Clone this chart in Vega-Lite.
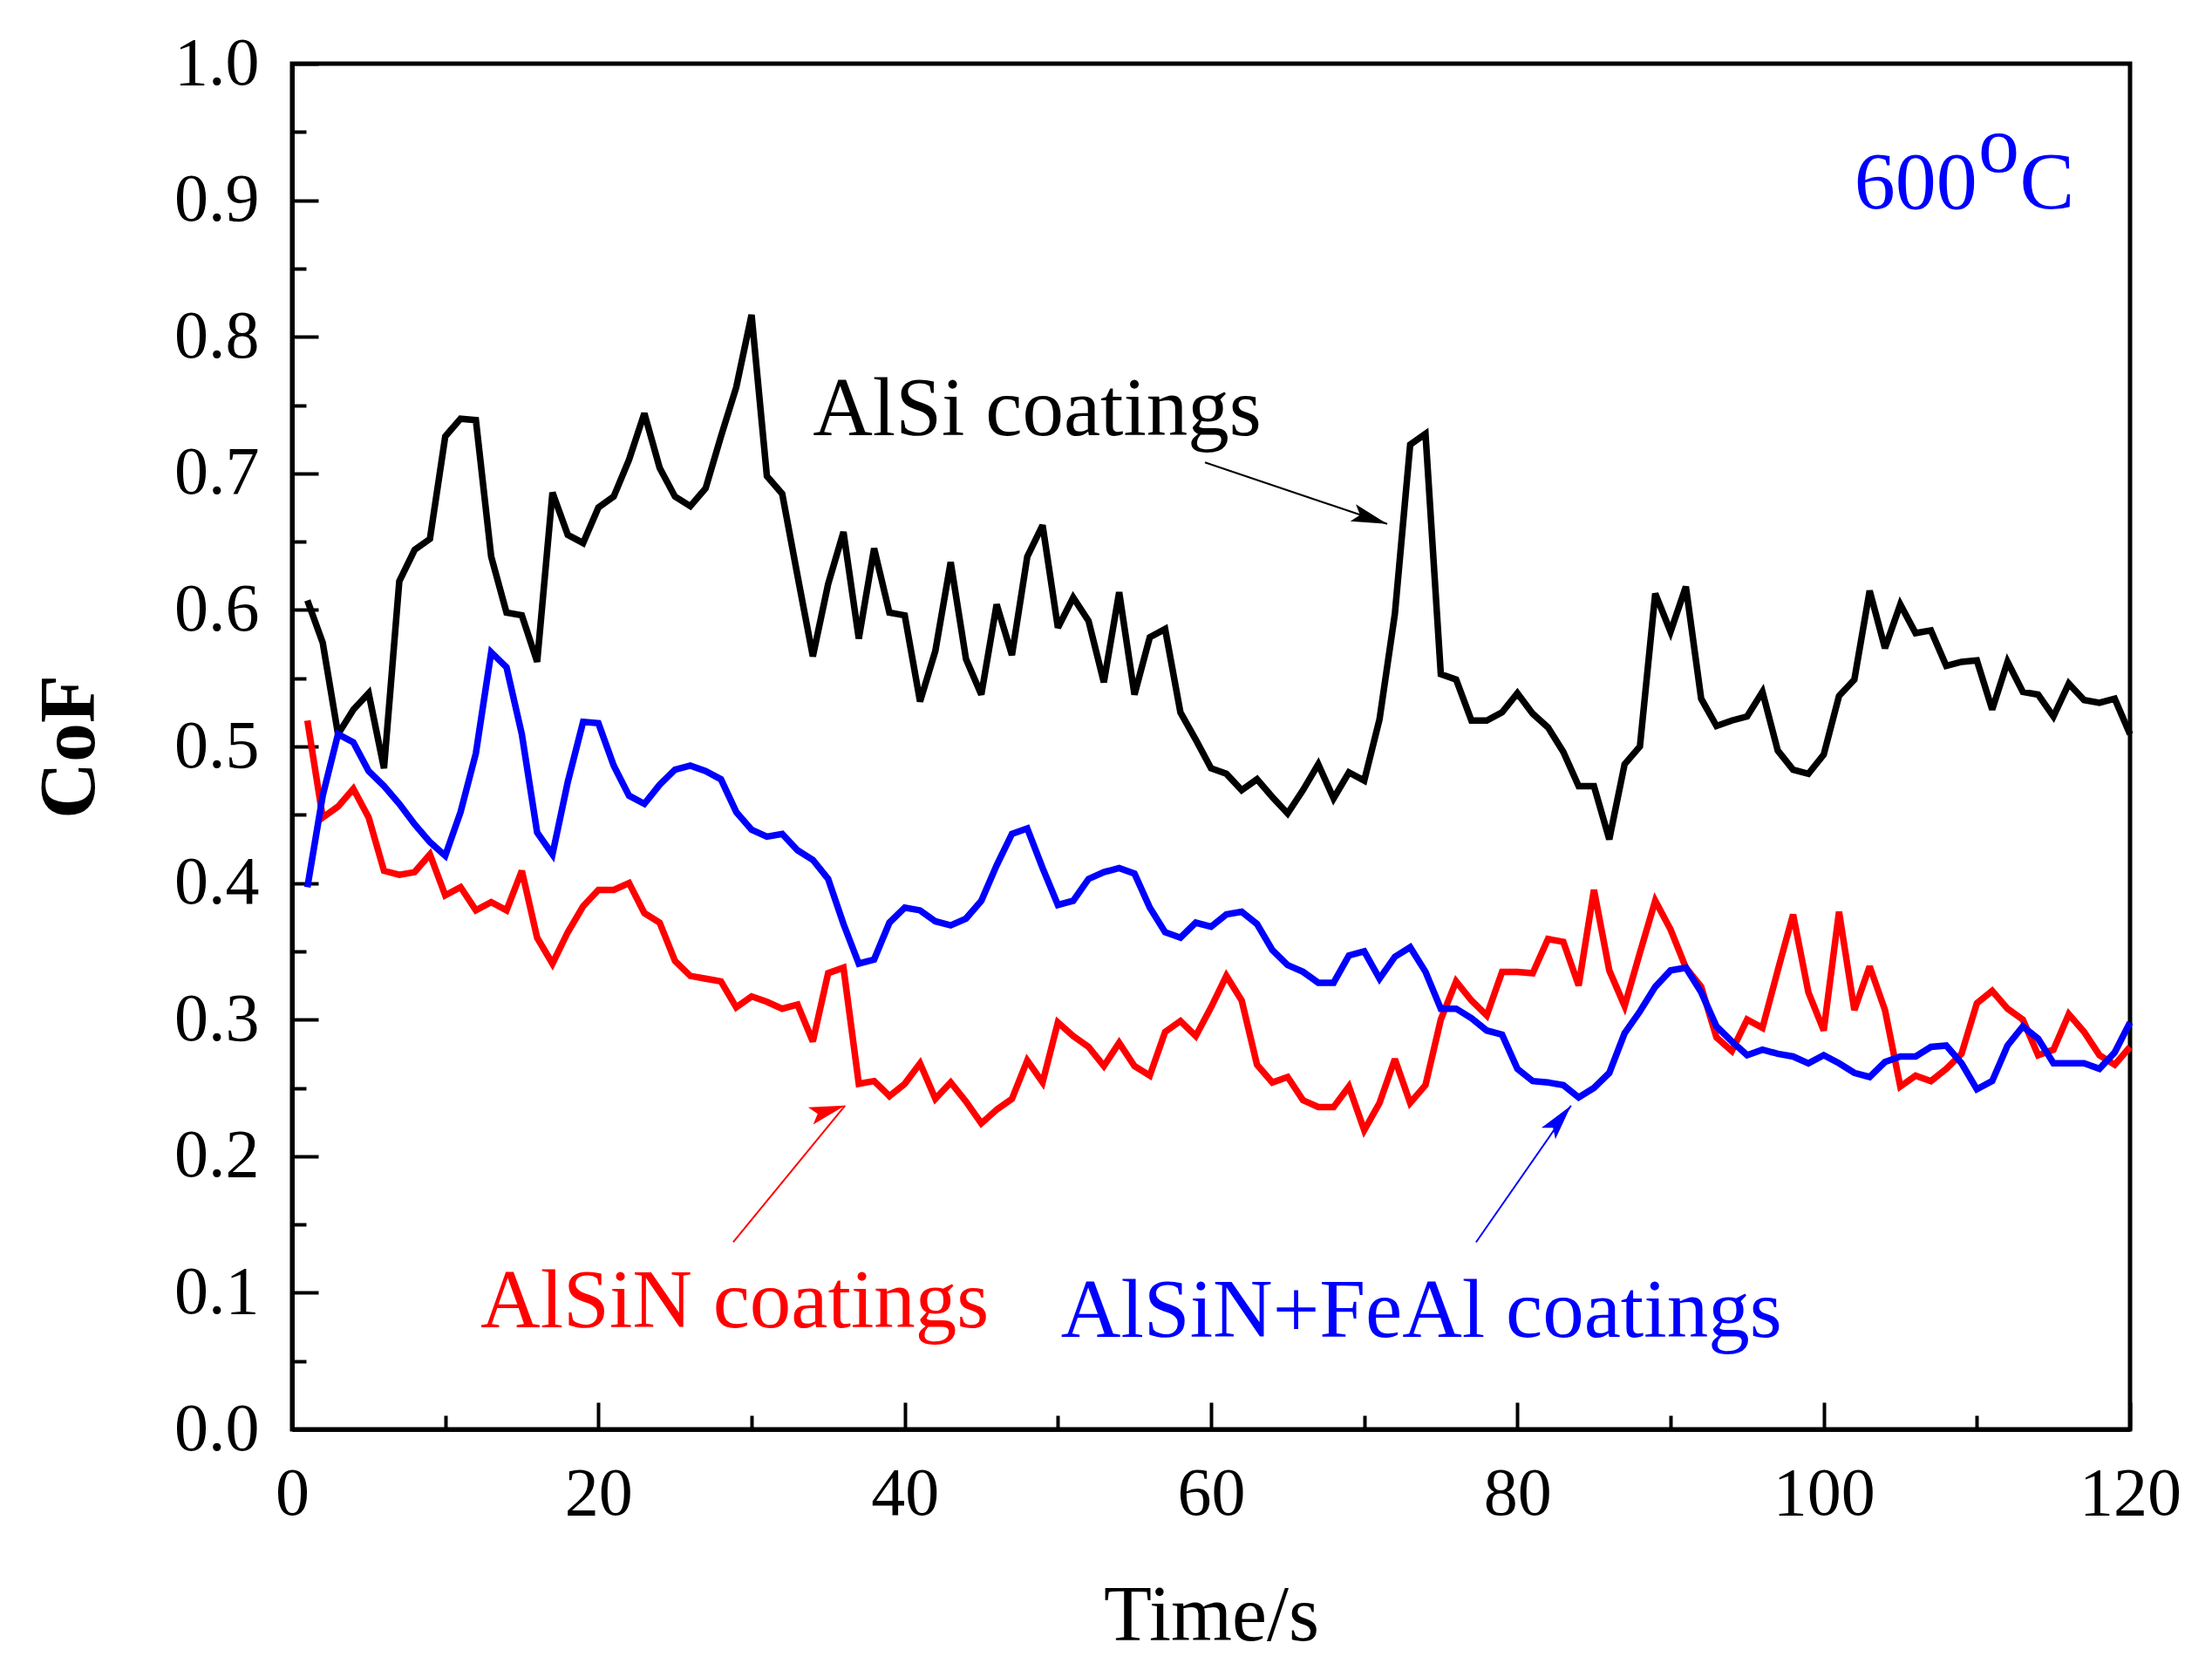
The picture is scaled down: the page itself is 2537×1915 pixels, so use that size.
{
  "$schema": "https://vega.github.io/schema/vega-lite/v6.json",
  "autosize": "none",
  "width": 2108,
  "height": 1566,
  "padding": {"left": 335, "top": 73, "right": 94, "bottom": 276},
  "background": "white",
  "config": {
    "view": {"stroke": "black", "strokeWidth": 5},
    "axis": {"grid": false, "domainColor": "black", "tickColor": "black", "labelColor": "black", "titleColor": "black", "labelFont": "Liberation Serif", "titleFont": "Liberation Serif"}
  },
  "datasets": {
    "cof": [
      {"t": 1, "AlSi": 0.607, "AlSiN": 0.519, "AlSiN+FeAl": 0.397},
      {"t": 2, "AlSi": 0.576, "AlSiN": 0.448, "AlSiN+FeAl": 0.464},
      {"t": 3, "AlSi": 0.509, "AlSiN": 0.456, "AlSiN+FeAl": 0.509},
      {"t": 4, "AlSi": 0.527, "AlSiN": 0.469, "AlSiN+FeAl": 0.503},
      {"t": 5, "AlSi": 0.539, "AlSiN": 0.448, "AlSiN+FeAl": 0.482},
      {"t": 6, "AlSi": 0.484, "AlSiN": 0.409, "AlSiN+FeAl": 0.471},
      {"t": 7, "AlSi": 0.621, "AlSiN": 0.406, "AlSiN+FeAl": 0.458},
      {"t": 8, "AlSi": 0.644, "AlSiN": 0.408, "AlSiN+FeAl": 0.443},
      {"t": 9, "AlSi": 0.652, "AlSiN": 0.421, "AlSiN+FeAl": 0.430},
      {"t": 10, "AlSi": 0.727, "AlSiN": 0.391, "AlSiN+FeAl": 0.420},
      {"t": 11, "AlSi": 0.740, "AlSiN": 0.397, "AlSiN+FeAl": 0.452},
      {"t": 12, "AlSi": 0.739, "AlSiN": 0.380, "AlSiN+FeAl": 0.495},
      {"t": 13, "AlSi": 0.639, "AlSiN": 0.386, "AlSiN+FeAl": 0.569},
      {"t": 14, "AlSi": 0.598, "AlSiN": 0.380, "AlSiN+FeAl": 0.558},
      {"t": 15, "AlSi": 0.596, "AlSiN": 0.409, "AlSiN+FeAl": 0.509},
      {"t": 16, "AlSi": 0.562, "AlSiN": 0.360, "AlSiN+FeAl": 0.437},
      {"t": 17, "AlSi": 0.686, "AlSiN": 0.341, "AlSiN+FeAl": 0.421},
      {"t": 18, "AlSi": 0.655, "AlSiN": 0.364, "AlSiN+FeAl": 0.474},
      {"t": 19, "AlSi": 0.649, "AlSiN": 0.383, "AlSiN+FeAl": 0.518},
      {"t": 20, "AlSi": 0.675, "AlSiN": 0.395, "AlSiN+FeAl": 0.517},
      {"t": 21, "AlSi": 0.683, "AlSiN": 0.395, "AlSiN+FeAl": 0.486},
      {"t": 22, "AlSi": 0.710, "AlSiN": 0.400, "AlSiN+FeAl": 0.464},
      {"t": 23, "AlSi": 0.744, "AlSiN": 0.378, "AlSiN+FeAl": 0.458},
      {"t": 24, "AlSi": 0.704, "AlSiN": 0.371, "AlSiN+FeAl": 0.472},
      {"t": 25, "AlSi": 0.683, "AlSiN": 0.343, "AlSiN+FeAl": 0.483},
      {"t": 26, "AlSi": 0.676, "AlSiN": 0.332, "AlSiN+FeAl": 0.486},
      {"t": 27, "AlSi": 0.689, "AlSiN": 0.330, "AlSiN+FeAl": 0.482},
      {"t": 28, "AlSi": 0.727, "AlSiN": 0.328, "AlSiN+FeAl": 0.476},
      {"t": 29, "AlSi": 0.763, "AlSiN": 0.309, "AlSiN+FeAl": 0.452},
      {"t": 30, "AlSi": 0.816, "AlSiN": 0.317, "AlSiN+FeAl": 0.439},
      {"t": 31, "AlSi": 0.698, "AlSiN": 0.313, "AlSiN+FeAl": 0.434},
      {"t": 32, "AlSi": 0.685, "AlSiN": 0.308, "AlSiN+FeAl": 0.436},
      {"t": 33, "AlSi": 0.625, "AlSiN": 0.311, "AlSiN+FeAl": 0.424},
      {"t": 34, "AlSi": 0.566, "AlSiN": 0.284, "AlSiN+FeAl": 0.417},
      {"t": 35, "AlSi": 0.619, "AlSiN": 0.334, "AlSiN+FeAl": 0.403},
      {"t": 36, "AlSi": 0.657, "AlSiN": 0.338, "AlSiN+FeAl": 0.370},
      {"t": 37, "AlSi": 0.579, "AlSiN": 0.253, "AlSiN+FeAl": 0.341},
      {"t": 38, "AlSi": 0.645, "AlSiN": 0.255, "AlSiN+FeAl": 0.344},
      {"t": 39, "AlSi": 0.598, "AlSiN": 0.244, "AlSiN+FeAl": 0.371},
      {"t": 40, "AlSi": 0.596, "AlSiN": 0.253, "AlSiN+FeAl": 0.382},
      {"t": 41, "AlSi": 0.533, "AlSiN": 0.268, "AlSiN+FeAl": 0.380},
      {"t": 42, "AlSi": 0.570, "AlSiN": 0.242, "AlSiN+FeAl": 0.372},
      {"t": 43, "AlSi": 0.635, "AlSiN": 0.254, "AlSiN+FeAl": 0.369},
      {"t": 44, "AlSi": 0.564, "AlSiN": 0.240, "AlSiN+FeAl": 0.374},
      {"t": 45, "AlSi": 0.538, "AlSiN": 0.224, "AlSiN+FeAl": 0.387},
      {"t": 46, "AlSi": 0.604, "AlSiN": 0.234, "AlSiN+FeAl": 0.413},
      {"t": 47, "AlSi": 0.567, "AlSiN": 0.242, "AlSiN+FeAl": 0.436},
      {"t": 48, "AlSi": 0.639, "AlSiN": 0.270, "AlSiN+FeAl": 0.440},
      {"t": 49, "AlSi": 0.662, "AlSiN": 0.254, "AlSiN+FeAl": 0.411},
      {"t": 50, "AlSi": 0.587, "AlSiN": 0.298, "AlSiN+FeAl": 0.384},
      {"t": 51, "AlSi": 0.609, "AlSiN": 0.288, "AlSiN+FeAl": 0.387},
      {"t": 52, "AlSi": 0.592, "AlSiN": 0.280, "AlSiN+FeAl": 0.403},
      {"t": 53, "AlSi": 0.547, "AlSiN": 0.266, "AlSiN+FeAl": 0.408},
      {"t": 54, "AlSi": 0.613, "AlSiN": 0.283, "AlSiN+FeAl": 0.411},
      {"t": 55, "AlSi": 0.538, "AlSiN": 0.266, "AlSiN+FeAl": 0.407},
      {"t": 56, "AlSi": 0.580, "AlSiN": 0.259, "AlSiN+FeAl": 0.382},
      {"t": 57, "AlSi": 0.586, "AlSiN": 0.291, "AlSiN+FeAl": 0.364},
      {"t": 58, "AlSi": 0.525, "AlSiN": 0.299, "AlSiN+FeAl": 0.360},
      {"t": 59, "AlSi": 0.505, "AlSiN": 0.288, "AlSiN+FeAl": 0.371},
      {"t": 60, "AlSi": 0.484, "AlSiN": 0.309, "AlSiN+FeAl": 0.368},
      {"t": 61, "AlSi": 0.480, "AlSiN": 0.332, "AlSiN+FeAl": 0.377},
      {"t": 62, "AlSi": 0.468, "AlSiN": 0.314, "AlSiN+FeAl": 0.379},
      {"t": 63, "AlSi": 0.476, "AlSiN": 0.267, "AlSiN+FeAl": 0.370},
      {"t": 64, "AlSi": 0.463, "AlSiN": 0.254, "AlSiN+FeAl": 0.351},
      {"t": 65, "AlSi": 0.451, "AlSiN": 0.258, "AlSiN+FeAl": 0.340},
      {"t": 66, "AlSi": 0.468, "AlSiN": 0.241, "AlSiN+FeAl": 0.335},
      {"t": 67, "AlSi": 0.487, "AlSiN": 0.236, "AlSiN+FeAl": 0.327},
      {"t": 68, "AlSi": 0.462, "AlSiN": 0.236, "AlSiN+FeAl": 0.327},
      {"t": 69, "AlSi": 0.481, "AlSiN": 0.251, "AlSiN+FeAl": 0.347},
      {"t": 70, "AlSi": 0.475, "AlSiN": 0.219, "AlSiN+FeAl": 0.350},
      {"t": 71, "AlSi": 0.520, "AlSiN": 0.239, "AlSiN+FeAl": 0.330},
      {"t": 72, "AlSi": 0.597, "AlSiN": 0.271, "AlSiN+FeAl": 0.346},
      {"t": 73, "AlSi": 0.721, "AlSiN": 0.239, "AlSiN+FeAl": 0.353},
      {"t": 74, "AlSi": 0.729, "AlSiN": 0.252, "AlSiN+FeAl": 0.335},
      {"t": 75, "AlSi": 0.553, "AlSiN": 0.300, "AlSiN+FeAl": 0.308},
      {"t": 76, "AlSi": 0.549, "AlSiN": 0.328, "AlSiN+FeAl": 0.308},
      {"t": 77, "AlSi": 0.519, "AlSiN": 0.314, "AlSiN+FeAl": 0.301},
      {"t": 78, "AlSi": 0.519, "AlSiN": 0.303, "AlSiN+FeAl": 0.292},
      {"t": 79, "AlSi": 0.525, "AlSiN": 0.335, "AlSiN+FeAl": 0.289},
      {"t": 80, "AlSi": 0.539, "AlSiN": 0.335, "AlSiN+FeAl": 0.264},
      {"t": 81, "AlSi": 0.524, "AlSiN": 0.334, "AlSiN+FeAl": 0.255},
      {"t": 82, "AlSi": 0.514, "AlSiN": 0.359, "AlSiN+FeAl": 0.254},
      {"t": 83, "AlSi": 0.496, "AlSiN": 0.357, "AlSiN+FeAl": 0.252},
      {"t": 84, "AlSi": 0.471, "AlSiN": 0.325, "AlSiN+FeAl": 0.243},
      {"t": 85, "AlSi": 0.471, "AlSiN": 0.395, "AlSiN+FeAl": 0.250},
      {"t": 86, "AlSi": 0.432, "AlSiN": 0.336, "AlSiN+FeAl": 0.261},
      {"t": 87, "AlSi": 0.487, "AlSiN": 0.310, "AlSiN+FeAl": 0.290},
      {"t": 88, "AlSi": 0.500, "AlSiN": 0.349, "AlSiN+FeAl": 0.306},
      {"t": 89, "AlSi": 0.612, "AlSiN": 0.387, "AlSiN+FeAl": 0.324},
      {"t": 90, "AlSi": 0.584, "AlSiN": 0.366, "AlSiN+FeAl": 0.336},
      {"t": 91, "AlSi": 0.617, "AlSiN": 0.338, "AlSiN+FeAl": 0.338},
      {"t": 92, "AlSi": 0.535, "AlSiN": 0.324, "AlSiN+FeAl": 0.320},
      {"t": 93, "AlSi": 0.515, "AlSiN": 0.287, "AlSiN+FeAl": 0.295},
      {"t": 94, "AlSi": 0.519, "AlSiN": 0.277, "AlSiN+FeAl": 0.284},
      {"t": 95, "AlSi": 0.522, "AlSiN": 0.300, "AlSiN+FeAl": 0.274},
      {"t": 96, "AlSi": 0.540, "AlSiN": 0.294, "AlSiN+FeAl": 0.278},
      {"t": 97, "AlSi": 0.497, "AlSiN": 0.336, "AlSiN+FeAl": 0.275},
      {"t": 98, "AlSi": 0.483, "AlSiN": 0.377, "AlSiN+FeAl": 0.273},
      {"t": 99, "AlSi": 0.480, "AlSiN": 0.320, "AlSiN+FeAl": 0.268},
      {"t": 100, "AlSi": 0.494, "AlSiN": 0.292, "AlSiN+FeAl": 0.274},
      {"t": 101, "AlSi": 0.537, "AlSiN": 0.379, "AlSiN+FeAl": 0.268},
      {"t": 102, "AlSi": 0.549, "AlSiN": 0.307, "AlSiN+FeAl": 0.261},
      {"t": 103, "AlSi": 0.614, "AlSiN": 0.339, "AlSiN+FeAl": 0.258},
      {"t": 104, "AlSi": 0.572, "AlSiN": 0.307, "AlSiN+FeAl": 0.269},
      {"t": 105, "AlSi": 0.604, "AlSiN": 0.251, "AlSiN+FeAl": 0.273},
      {"t": 106, "AlSi": 0.583, "AlSiN": 0.259, "AlSiN+FeAl": 0.273},
      {"t": 107, "AlSi": 0.585, "AlSiN": 0.255, "AlSiN+FeAl": 0.280},
      {"t": 108, "AlSi": 0.559, "AlSiN": 0.264, "AlSiN+FeAl": 0.281},
      {"t": 109, "AlSi": 0.562, "AlSiN": 0.275, "AlSiN+FeAl": 0.268},
      {"t": 110, "AlSi": 0.563, "AlSiN": 0.312, "AlSiN+FeAl": 0.249},
      {"t": 111, "AlSi": 0.527, "AlSiN": 0.321, "AlSiN+FeAl": 0.255},
      {"t": 112, "AlSi": 0.562, "AlSiN": 0.308, "AlSiN+FeAl": 0.281},
      {"t": 113, "AlSi": 0.540, "AlSiN": 0.300, "AlSiN+FeAl": 0.295},
      {"t": 114, "AlSi": 0.538, "AlSiN": 0.274, "AlSiN+FeAl": 0.286},
      {"t": 115, "AlSi": 0.522, "AlSiN": 0.278, "AlSiN+FeAl": 0.268},
      {"t": 116, "AlSi": 0.546, "AlSiN": 0.304, "AlSiN+FeAl": 0.268},
      {"t": 117, "AlSi": 0.534, "AlSiN": 0.291, "AlSiN+FeAl": 0.268},
      {"t": 118, "AlSi": 0.532, "AlSiN": 0.274, "AlSiN+FeAl": 0.264},
      {"t": 119, "AlSi": 0.535, "AlSiN": 0.267, "AlSiN+FeAl": 0.276},
      {"t": 120, "AlSi": 0.509, "AlSiN": 0.280, "AlSiN+FeAl": 0.298}
    ],
    "arrows": [
      {"coating": "AlSi", "x": 59.6, "y": 0.708, "x2": 71.5, "y2": 0.663},
      {"coating": "AlSiN", "x": 28.8, "y": 0.137, "x2": 36.1, "y2": 0.237},
      {"coating": "AlSiN+FeAl", "x": 77.3, "y": 0.137, "x2": 83.5, "y2": 0.237}
    ],
    "notes": [
      {"coating": "AlSi", "x": 34.0, "y": 0.728, "text": "AlSi coatings"},
      {"coating": "AlSiN", "x": 12.3, "y": 0.075, "text": "AlSiN coatings"},
      {"coating": "AlSiN+FeAl", "x": 50.2, "y": 0.068, "text": "AlSiN+FeAl coatings"}
    ],
    "temp": [
      {"x": 102.0, "y": 0.894, "text": "600"},
      {"x": 110.1, "y": 0.921, "text": "o"},
      {"x": 112.8, "y": 0.894, "text": "C"}
    ]
  },
  "resolve": {"axis": {"x": "independent", "y": "independent"}},
  "layer": [
    {
      "data": {"name": "cof"},
      "transform": [{"fold": ["AlSi", "AlSiN", "AlSiN+FeAl"], "as": ["coating", "cof"]}],
      "mark": {"type": "line", "strokeWidth": 7.5, "strokeJoin": "miter", "strokeMiterLimit": 3},
      "encoding": {
        "x": {
          "field": "t", "type": "quantitative",
          "scale": {"domain": [0, 120], "nice": false, "zero": false},
          "axis": {
            "orient": "bottom", "values": [0, 20, 40, 60, 80, 100, 120],
            "tickSize": -31, "tickWidth": 4, "domainWidth": 5,
            "labelFontSize": 78, "labelPadding": 66, "labelFlush": false,
            "title": "Time/s", "titleFontSize": 90, "titleFontWeight": "normal",
            "titleX": 1054, "titleY": 241, "titleBaseline": "alphabetic", "titleAlign": "center"
          }
        },
        "y": {
          "field": "cof", "type": "quantitative",
          "scale": {"domain": [0, 1], "nice": false},
          "axis": {
            "orient": "left", "values": [0, 0.1, 0.2, 0.3, 0.4, 0.5, 0.6, 0.7, 0.8, 0.9, 1.0],
            "format": ".1f", "tickSize": -30, "tickWidth": 4, "domainWidth": 5,
            "labelFontSize": 78, "labelPadding": 68, "labelFlush": false,
            "title": "CoF", "titleFontSize": 90, "titleFontWeight": "bold",
            "titleX": -228, "titleY": 783, "titleAngle": -90,
            "titleBaseline": "alphabetic", "titleAlign": "center"
          }
        },
        "color": {
          "field": "coating", "type": "nominal",
          "scale": {"domain": ["AlSi", "AlSiN", "AlSiN+FeAl"], "range": ["#000000", "#ff0000", "#0000ff"]},
          "legend": null
        }
      }
    },
    {
      "data": {"name": "arrows"},
      "mark": {"type": "rule", "strokeWidth": 2},
      "encoding": {
        "x": {
          "field": "x", "type": "quantitative",
          "axis": {
            "orient": "bottom", "values": [10, 30, 50, 70, 90, 110],
            "tickSize": -16, "tickWidth": 4, "domain": false, "labels": false, "title": null
          }
        },
        "y": {
          "field": "y", "type": "quantitative",
          "axis": {
            "orient": "left", "values": [0.05, 0.15, 0.25, 0.35, 0.45, 0.55, 0.65, 0.75, 0.85, 0.95],
            "tickSize": -16, "tickWidth": 4, "domain": false, "labels": false, "title": null
          }
        },
        "x2": {"field": "x2"},
        "y2": {"field": "y2"},
        "color": {"field": "coating", "type": "nominal", "legend": null}
      }
    },
    {
      "data": {"name": "arrows"},
      "mark": {"type": "point", "shape": "M0,0L-0.55,2.2L0,1.75L0.55,2.2Z", "filled": true, "opacity": 1, "size": 1400, "strokeWidth": 0},
      "encoding": {
        "x": {"field": "x2", "type": "quantitative", "axis": null},
        "y": {"field": "y2", "type": "quantitative", "axis": null},
        "angle": {
          "field": "coating", "type": "nominal",
          "scale": {"domain": ["AlSi", "AlSiN", "AlSiN+FeAl"], "range": [108, 39, 34]},
          "legend": null
        },
        "color": {"field": "coating", "type": "nominal", "legend": null}
      }
    },
    {
      "data": {"name": "notes"},
      "mark": {"type": "text", "font": "Liberation Serif", "fontSize": 95, "align": "left", "baseline": "alphabetic"},
      "encoding": {
        "x": {"field": "x", "type": "quantitative", "axis": null},
        "y": {"field": "y", "type": "quantitative", "axis": null},
        "text": {"field": "text"},
        "color": {"field": "coating", "type": "nominal", "legend": null}
      }
    },
    {
      "data": {"name": "temp"},
      "mark": {"type": "text", "font": "Liberation Serif", "fontSize": 94, "align": "left", "baseline": "alphabetic", "color": "#0000ff"},
      "encoding": {
        "x": {"field": "x", "type": "quantitative", "axis": null},
        "y": {"field": "y", "type": "quantitative", "axis": null},
        "text": {"field": "text"}
      }
    }
  ]
}
